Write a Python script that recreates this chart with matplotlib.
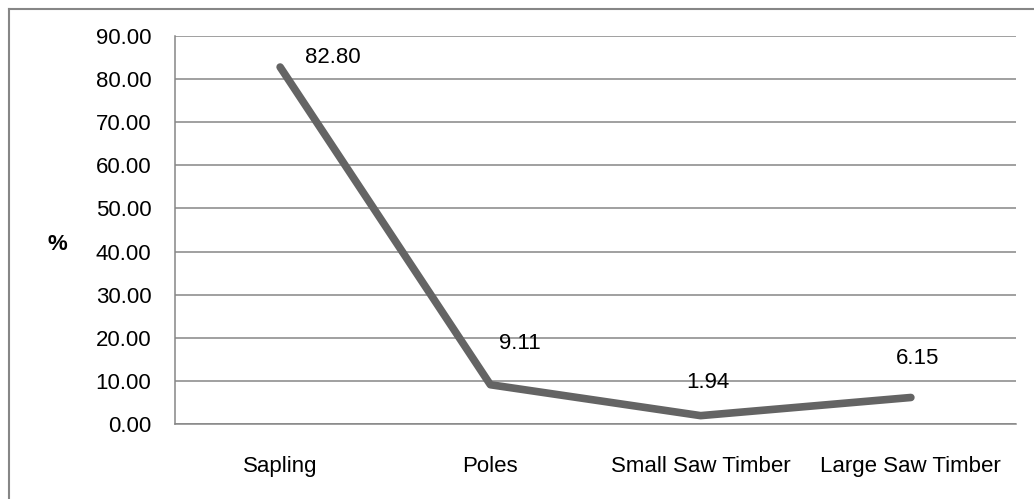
import matplotlib
matplotlib.use('Agg')
import matplotlib.pyplot as plt
from matplotlib.lines import Line2D

categorias = ['Sapling', 'Poles', 'Small Saw Timber', 'Large Saw Timber']
valores = [82.80, 9.11, 1.94, 6.15]
rotulos = ['82.80', '9.11', '1.94', '6.15']
yticks = [0, 10, 20, 30, 40, 50, 60, 70, 80, 90]

# deslocamento dos rótulos (em pontos)
offsets = [(38, 7), (21, 30), (5, 24), (5, 28)]

plt.rcParams['font.family'] = ['Liberation Sans', 'DejaVu Sans']
fs = 16

fig = plt.figure(figsize=(10.34, 4.99), dpi=100)
ax = fig.add_axes([175 / 1034, 1 - 424 / 499, (1016 - 175) / 1034, (424 - 36) / 499])

x = list(range(len(categorias)))
ax.plot(x, valores, color='#646464', linewidth=5.5, solid_capstyle='round',
        solid_joinstyle='round', zorder=3)

for xi, v, r, off in zip(x, valores, rotulos, offsets):
    ax.annotate(r, (xi, v), xytext=off, textcoords='offset points',
                ha='center', va='center', fontsize=fs, color='black')

ax.set_xlim(-0.5, 3.5)
ax.set_ylim(0, 90)
ax.set_yticks(yticks)
ax.set_yticklabels([f'{t:.2f}' for t in yticks], fontsize=fs)
ax.set_xticks(x)
ax.set_xticklabels(categorias, fontsize=fs)
ax.tick_params(axis='both', length=0)
ax.tick_params(axis='y', pad=17)
ax.tick_params(axis='x', pad=23)
ax.yaxis.grid(True, color='#868686', linewidth=1.1)
ax.set_axisbelow(True)

for lado in ['top', 'right']:
    ax.spines[lado].set_visible(False)
for lado in ['left', 'bottom']:
    ax.spines[lado].set_color('#868686')
    ax.spines[lado].set_linewidth(1.1)

fig.text(57 / 1034, 1 - 244 / 499, '%', fontsize=fs, fontweight='bold',
         ha='center', va='center')

# borda externa do gráfico
fig.add_artist(Line2D([8.5 / 1034, 1], [1 - 8.5 / 499] * 2, color='#868686', linewidth=1.5))
fig.add_artist(Line2D([8.5 / 1034] * 2, [0, 1 - 8.5 / 499], color='#868686', linewidth=1.5))

fig.savefig('out.png', dpi=100)
